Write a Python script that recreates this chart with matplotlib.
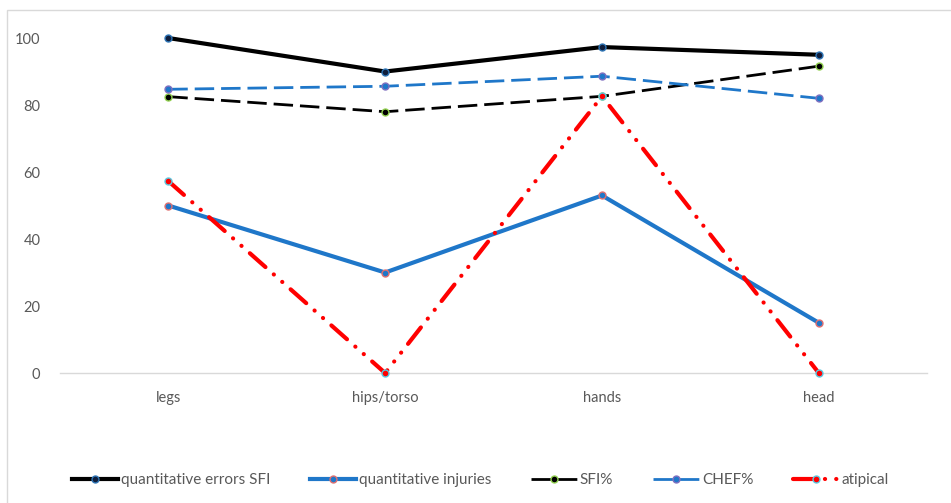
import matplotlib
matplotlib.use("Agg")
import matplotlib.pyplot as plt
from matplotlib.patches import Rectangle

# body regions on the x axis
regions = ["legs", "hips/torso", "hands", "head"]

errors_sfi = [100, 90, 97.3, 95]
injuries = [50, 30, 53, 15]
sfi_pct = [82.5, 78, 82.6, 91.6]
chef_pct = [84.7, 85.6, 88.6, 82]
atipical = [57.3, 0, 82.6, 0]

yticks = [0, 20, 40, 60, 80, 100]

BLUE = "#1F77C9"
GREY_TXT = "#595959"

plt.rcParams["font.family"] = ["Lato", "DejaVu Sans"]
plt.rcParams["lines.scale_dashes"] = False

fig = plt.figure(figsize=(9.51, 5.03), dpi=100)
ax = fig.add_axes([0.063, 0.2584, 0.912, 0.666])

# thin frame around the chart area
fig.patches.append(Rectangle((7 / 951, -0.1), 1.2, 1 - 10 / 503 + 0.1,
                             transform=fig.transFigure, fill=False,
                             edgecolor="#D9D9D9", linewidth=1))

x = range(len(regions))
series = [
    (errors_sfi, "quantitative errors SFI", "black", "-", 3.0, "#0F1E3C", "#2E75B6"),
    (injuries, "quantitative injuries", BLUE, "-", 3.0, BLUE, "#E07070"),
    (sfi_pct, "SFI%", "black", (0, (14, 5)), 2.0, "black", "#92D050"),
    (chef_pct, "CHEF%", BLUE, (0, (14, 5)), 2.0, BLUE, "#8070C0"),
    (atipical, "atipical", "#FF0000", (0, (15, 8, 0.1, 8, 0.1, 8)), 3.0, "#FF0000", "#5BC8E0"),
]

for vals, name, col, ls, lw, face, edge in series:
    line, = ax.plot(x, vals, color=col, linestyle=ls, linewidth=lw, label=name,
                    marker="o", markersize=5, markerfacecolor=face,
                    markeredgecolor=edge, markeredgewidth=1, clip_on=False,
                    zorder=3)
    if name == "atipical":
        line.set_dash_capstyle("round")

ax.set_xlim(-0.5, 3.5)
ax.set_ylim(0, 100)
ax.set_xticks(list(x))
ax.set_xticklabels(regions)
ax.set_yticks(yticks)

for side in ["top", "right", "left"]:
    ax.spines[side].set_visible(False)
ax.spines["bottom"].set_color("#D9D9D9")
ax.spines["bottom"].set_linewidth(1)

ax.tick_params(axis="both", length=0, labelsize=10.5, labelcolor=GREY_TXT)
ax.tick_params(axis="y", pad=14)
ax.tick_params(axis="x", pad=13)

leg = ax.legend(loc="center", bbox_to_anchor=(0.485, -0.32), ncol=5,
                frameon=False, fontsize=11, handlelength=3.0,
                columnspacing=2.6, handletextpad=0.2)
for t in leg.get_texts():
    t.set_color(GREY_TXT)

plt.savefig("out.png", dpi=100)
